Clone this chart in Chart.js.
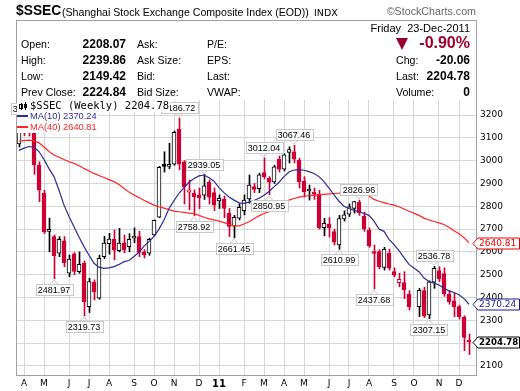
<!DOCTYPE html>
<html>
<head>
<meta charset="utf-8">
<script src="https://cdn.jsdelivr.net/npm/chart.js@4.4.0/dist/chart.umd.min.js"></script>
<style>
body { margin: 0; background: #fff; }
#wrap { position: relative; width: 520px; height: 391px; overflow: hidden; font-family: "Liberation Sans", Arial, sans-serif; color: #000; }
#c { position: absolute; left: 0; top: 0; }
.t { position: absolute; line-height: 1; white-space: nowrap; }
.l { font-size: 10.6px; }
.v { font-size: 12px; font-weight: bold; text-align: right; }
</style>
</head>
<body>
<div id="wrap">
<canvas id="c" width="520" height="391"></canvas>

<div class="t" style="left:16px;top:4px;font-size:13.8px;font-weight:bold">$SSEC</div>
<div class="t" style="left:62px;top:7px;font-size:10.6px">(Shanghai Stock Exchange Composite Index (EOD))</div>
<div class="t" style="left:314px;top:8px;font-size:9.5px;font-family:'DejaVu Sans',sans-serif">INDX</div>
<div class="t" style="right:44px;top:6px;font-size:10.7px;color:#666">&copy;StockCharts.com</div>

<div class="t" style="right:50px;top:22.7px;font-size:11px">Friday&nbsp;&nbsp;23-Dec-2011</div>

<div class="t l" style="left:21px;top:39px">Open:</div>
<div class="t l" style="left:21px;top:55px">High:</div>
<div class="t l" style="left:21px;top:71px">Low:</div>
<div class="t l" style="left:21px;top:87px">Prev Close:</div>
<div class="t v" style="left:56px;width:70px;top:37.8px">2208.07</div>
<div class="t v" style="left:56px;width:70px;top:53.8px">2239.86</div>
<div class="t v" style="left:56px;width:70px;top:69.8px">2149.42</div>
<div class="t v" style="left:56px;width:70px;top:85.8px">2224.84</div>

<div class="t l" style="left:137px;top:39px">Ask:</div>
<div class="t l" style="left:137px;top:55px">Ask Size:</div>
<div class="t l" style="left:137px;top:71px">Bid:</div>
<div class="t l" style="left:137px;top:87px">Bid Size:</div>

<div class="t l" style="left:207px;top:39px">P/E:</div>
<div class="t l" style="left:207px;top:55px">EPS:</div>
<div class="t l" style="left:207px;top:71px">Last:</div>
<div class="t l" style="left:207px;top:87px">VWAP:</div>

<div style="position:absolute;left:396px;top:38px;width:0;height:0;border-left:6.5px solid transparent;border-right:6.5px solid transparent;border-top:12px solid #99002b"></div>
<div class="t" style="left:380px;width:90px;top:34.5px;font-size:16px;font-weight:bold;text-align:right;color:#99002b">-0.90%</div>
<div class="t l" style="left:396px;top:55px">Chg:</div>
<div class="t l" style="left:396px;top:71px">Last:</div>
<div class="t l" style="left:396px;top:87px">Volume:</div>
<div class="t v" style="left:400px;width:70px;top:53.8px">-20.06</div>
<div class="t v" style="left:400px;width:70px;top:69.8px">2204.78</div>
<div class="t v" style="left:400px;width:70px;top:85.8px">0</div>
</div>

<script>
// weekly bars, Mar 29 2010 .. Dec 19 2011 (index = week number, 79 = Golden Week, no trading)
const opens = [3073, 3150, 3135, 3125, 2981, 2858, 2690, 2667, 2594, 2648,
  2507, 2591, 2513, 2550, 2360, 2467, 2397, 2579, 2636, 2655,
  2605, 2640, 2623, 2660, 2667, 2600, 2594, 2674, 2752, 2985,
  2975, 2985, 3139, 2995, 2862, 2857, 2850, 2849, 2905, 2860,
  2823, 2830, 2769, 2713, 2748, 2781, 2832, 2886, 2877, 2948,
  2922, 2907, 3006, 2963, 3036, 3039, 3003, 2910, 2867, 2860,
  2852, 2706, 2722, 2689, 2630, 2744, 2765, 2790, 2817, 2757,
  2696, 2601, 2601, 2532, 2594, 2513, 2465, 2465, 2415, null,
  2360, 2430, 2323, 2467, 2518, 2505, 2415, 2385, 2360, 2313, 2208.07];
const highs = [3150, 3165, 3181.66, 3130, 2995, 2870, 2748, 2674, 2667, 2667,
  2586, 2597, 2600, 2560, 2484, 2477, 2586, 2668, 2681, 2696,
  2703, 2674, 2680, 2705, 2690, 2610, 2660, 2740, 2975, 3039,
  3076, 3130, 3186.72, 3000, 2915, 2872, 2880, 2939.05, 2915, 2880,
  2850, 2845, 2790, 2760, 2812, 2850, 2937, 2900, 2945, 3012.04,
  2930, 2980, 3020, 3030, 3061, 3067.46, 3010, 2930, 2893, 2880,
  2870, 2747, 2750, 2700, 2760, 2780, 2810, 2822, 2826.96, 2775,
  2705, 2630, 2610, 2620, 2612, 2530, 2506, 2513, 2430, null,
  2440, 2445, 2473, 2536.78, 2535, 2530, 2430, 2418, 2367, 2320, 2239.86];
const lows = [3060, 3110, 3108, 2940, 2820, 2680, 2600, 2481.97, 2579, 2535,
  2491, 2500, 2506, 2319.73, 2334, 2389, 2392, 2570, 2590, 2565,
  2600, 2595, 2600, 2640, 2579, 2573, 2585, 2670, 2750, 2950,
  2965, 2980, 2960, 2810, 2784, 2758.92, 2790, 2830, 2810, 2780,
  2790, 2750, 2667, 2661.45, 2740, 2762, 2813, 2860, 2860, 2920,
  2850.95, 2900, 2950, 2955, 2990, 2990, 2880, 2840, 2827, 2830,
  2700, 2670, 2665, 2630, 2610.99, 2735, 2755, 2770, 2760, 2690,
  2620, 2437.68, 2525, 2520, 2520, 2490, 2447, 2395, 2345, null,
  2316, 2312, 2307.15, 2440, 2470, 2405, 2370, 2316, 2305, 2167, 2149.42];
const closes = [3148, 3130, 3125, 2981, 2871, 2688, 2697, 2583, 2655, 2553,
  2568, 2514, 2545, 2382, 2470, 2424, 2572, 2638, 2656, 2608,
  2638, 2610, 2655, 2665, 2598, 2587, 2655, 2738, 2971, 2975,
  2979, 3124, 2985, 2886, 2872, 2842, 2837, 2890, 2840, 2805,
  2835, 2791, 2712, 2752, 2795, 2827, 2893, 2874, 2938, 2930,
  2906, 2973, 2963, 3025, 3049, 3007, 2907, 2864, 2869, 2853,
  2706, 2725, 2705, 2642, 2746, 2762, 2797, 2820, 2771, 2701,
  2626, 2593, 2534, 2612, 2528, 2498, 2480, 2433, 2359, null,
  2431, 2318, 2469, 2528, 2481, 2416, 2380, 2360, 2316, 2224.84, 2204.78];
const ma10 = [3045, 3055, 3062, 3058, 3040, 3005, 2965, 2930, 2870, 2805,
  2755, 2710, 2665, 2623, 2585, 2550, 2533, 2528, 2530, 2535,
  2545, 2557, 2562, 2580, 2598, 2625, 2645, 2668, 2700, 2740,
  2790, 2825, 2857, 2882, 2905, 2922, 2933, 2937, 2925, 2910,
  2882, 2860, 2840, 2827, 2815, 2813, 2818, 2825, 2835, 2848,
  2865, 2885, 2905, 2930, 2950, 2959, 2961, 2958, 2952, 2944,
  2930, 2908, 2880, 2850, 2822, 2800, 2790, 2782, 2776, 2768,
  2760, 2735, 2700, 2690, 2655, 2632, 2605, 2575, 2545, null,
  2513, 2485, 2470, 2463, 2455, 2440, 2429, 2422, 2412, 2395, 2370.24];
const ma40 = [3085, 3088, 3090, 3087, 3078, 3060, 3040, 3025, 3015, 3005,
  2995, 2988, 2978, 2966, 2955, 2944, 2935, 2926, 2917, 2908,
  2895, 2878, 2862, 2849, 2838, 2826, 2815, 2805, 2798, 2792,
  2785, 2779, 2776, 2773, 2770, 2768, 2760, 2752, 2745, 2740,
  2735, 2728, 2720, 2714, 2714, 2722, 2732, 2745, 2758, 2768,
  2776, 2790, 2803, 2816, 2827, 2834, 2840, 2844, 2846, 2848,
  2850, 2852, 2854, 2856, 2858, 2861, 2864, 2864, 2862, 2857,
  2845, 2830, 2822, 2816, 2810, 2805, 2798, 2788, 2778, null,
  2760, 2748, 2740, 2733, 2727, 2720, 2708, 2693, 2680, 2662, 2640.81];

// month gridlines: week index of first Monday of each month
const tickIdx = [1, 5, 10, 14, 18, 23, 27, 31, 36, 40, 45, 49, 53, 57, 62, 66, 70, 75, 79, 84, 88];
const tickLbl = ['A', 'M', 'J', 'J', 'A', 'S', 'O', 'N', 'D', '11', 'F', 'M', 'A', 'M', 'J', 'J', 'A', 'S', 'O', 'N', 'D'];
const yTicks = [2100, 2200, 2300, 2400, 2500, 2600, 2700, 2800, 2900, 3000, 3100, 3200];
// labelled swing highs / lows
const peakIdx = [2, 7, 13, 32, 35, 37, 43, 49, 50, 55, 64, 68, 71, 82, 83];
const peakKind = ['h', 'l', 'l', 'h', 'l', 'h', 'l', 'h', 'l', 'h', 'l', 'h', 'l', 'l', 'h'];

const RED = '#cc0033';
const BLUE = '#2b2b96';
const MA40C = '#ff2424';
const SANS = '"DejaVu Sans", Verdana, sans-serif';

const body = [], wick = [], bodyFill = [], bodyLine = [];
let prev = null;
for (let i = 0; i < closes.length; i++) {
    if (closes[i] === null) continue;
    const up = prev === null ? true : closes[i] >= prev;
    const col = up ? '#000' : RED;
    body.push({ x: i, y: [opens[i], closes[i]] });
    wick.push({ x: i, y: [lows[i], highs[i]] });
    bodyLine.push(col);
    bodyFill.push(closes[i] > opens[i] ? '#fff' : col);
    prev = closes[i];
}
const pts = arr => arr.map((v, i) => ({ x: i, y: v })).filter(p => p.y !== null);
const last = closes.length - 1;

const overlay = {
    id: 'overlay',
    afterDraw(chart) {
        const { ctx, chartArea: a, scales: { x, y } } = chart;
        ctx.save();
        // frame around header and plot
        ctx.strokeStyle = '#a0a0a0';
        ctx.lineWidth = 1;
        ctx.strokeRect(a.left + 0.5, 20.5, a.right - a.left, a.bottom - 20);

        // high / low labels
        ctx.font = '9px "Liberation Sans", Arial, sans-serif';
        ctx.textAlign = 'center';
        ctx.textBaseline = 'middle';
        peakIdx.forEach((i, k) => {
            const hi = peakKind[k] === 'h';
            const v = hi ? highs[i] : lows[i];
            const px = x.getPixelForValue(i);
            const py = y.getPixelForValue(v);
            const txt = v.toFixed(2);
            const w = Math.round(ctx.measureText(txt).width + 4), h = 11;
            const bx = Math.round(px - w / 2) + 0.5;
            const by = hi ? Math.round(py - 5 - h) + 0.5 : Math.round(py + 5) + 0.5;
            ctx.strokeStyle = '#c8c8c8';
            ctx.beginPath();
            if (hi) { ctx.moveTo(px - 4, by + h); ctx.lineTo(px, py - 1); ctx.lineTo(px + 4, by + h); }
            else { ctx.moveTo(px - 4, by); ctx.lineTo(px, py + 1); ctx.lineTo(px + 4, by); }
            ctx.stroke();
            ctx.fillStyle = '#fff';
            ctx.fillRect(bx, by, w, h);
            ctx.strokeRect(bx, by, w, h);
            ctx.fillStyle = '#000';
            ctx.fillText(txt, px, by + h / 2 + 0.5);
        });

        // legend
        const lx = a.left + 14;
        ctx.textAlign = 'left';
        ctx.textBaseline = 'alphabetic';
        ctx.font = '10.5px "DejaVu Sans Mono", monospace';
        const t1 = '$SSEC (Weekly) ' + closes[last].toFixed(2);
        ctx.fillStyle = '#fff';
        ctx.fillRect(a.left + 1, a.top + 1, lx - a.left + ctx.measureText(t1).width, 11);
        ctx.fillStyle = '#000';
        ctx.fillText(t1, lx, a.top + 9);
        // little candle icon
        ctx.fillRect(a.left + 5, a.top + 3, 1, 7);
        ctx.strokeStyle = '#000';
        ctx.strokeRect(a.left + 3.5, a.top + 4.5, 3, 4);
        ctx.fillRect(a.left + 9, a.top + 2, 1, 8);
        ctx.fillRect(a.left + 8, a.top + 4, 3, 4);

        ctx.font = '9.3px "Liberation Sans", Arial, sans-serif';
        [['MA(10) ' + ma10[last].toFixed(2), BLUE, 19], ['MA(40) ' + ma40[last].toFixed(2), MA40C, 30]].forEach(([t, c, base]) => {
            ctx.fillStyle = '#fff';
            ctx.fillRect(a.left + 1, a.top + base - 8, lx - a.left + ctx.measureText(t).width, 11);
            ctx.fillStyle = c;
            ctx.fillRect(a.left + 1, a.top + base - 4, 11, 2);
            ctx.fillText(t, lx, a.top + base);
        });

        // last value tags on the right axis
        const tag = (v, c, bold) => {
            const py = Math.round(y.getPixelForValue(v)) + 0.5;
            const r = a.right;
            ctx.beginPath();
            ctx.moveTo(r - 3, py);
            ctx.lineTo(r + 2, py - 5.5);
            ctx.lineTo(r + 43.5, py - 5.5);
            ctx.lineTo(r + 43.5, py + 5.5);
            ctx.lineTo(r + 2, py + 5.5);
            ctx.closePath();
            ctx.fillStyle = '#fff';
            ctx.fill();
            ctx.strokeStyle = c;
            ctx.stroke();
            ctx.font = (bold ? 'bold 8.6px ' : '9px ') + SANS;
            ctx.fillStyle = c;
            ctx.textBaseline = 'middle';
            ctx.fillText(v.toFixed(2), r + 3, py + 0.5);
        };
        tag(ma40[last], '#ee0000', false);
        tag(ma10[last], '#1a1a8c', false);
        tag(closes[last], '#000', true);
        ctx.restore();
    }
};

new Chart(document.getElementById('c'), {
    type: 'bar',
    data: {
        datasets: [
            { type: 'line', data: pts(ma10), borderColor: BLUE, borderWidth: 1.2, pointRadius: 0, spanGaps: true, order: 0 },
            { type: 'line', data: pts(ma40), borderColor: MA40C, borderWidth: 1.2, pointRadius: 0, spanGaps: true, order: 0 },
            { data: body, backgroundColor: bodyFill, borderColor: bodyLine, borderWidth: 1, borderSkipped: false,
              barThickness: 4, minBarLength: 2, grouped: false, order: 1 },
            { data: wick, xAxisID: 'xw', backgroundColor: bodyLine, borderWidth: 0,
              barThickness: 1, grouped: false, order: 2 }
        ]
    },
    options: {
        responsive: false,
        animation: false,
        devicePixelRatio: 1,
        events: [],
        layout: { padding: { left: 16, top: 100, right: 0, bottom: 0 } },
        plugins: { legend: { display: false }, tooltip: { enabled: false } },
        scales: {
            x: {
                type: 'linear', min: -0.6, max: 91.4, offset: false,
                afterBuildTicks: s => { s.ticks = tickIdx.map(v => ({ value: v })); },
                afterFit: s => { s.height = 16; },
                grid: { color: '#d6d6d6', drawTicks: false, offset: false },
                border: { display: false },
                ticks: {
                    autoSkip: false, maxRotation: 0, padding: 3, color: '#000',
                    callback: v => tickLbl[tickIdx.indexOf(v)],
                    font: c => (c.tick && c.tick.value === 40) ? { family: SANS, size: 10, weight: 'bold' } : { family: SANS, size: 9 }
                }
            },
            xw: { type: 'linear', display: false, min: -0.7, max: 91.3, offset: false },
            y: {
                position: 'right', min: 2060, max: 3266,
                afterBuildTicks: s => { s.ticks = yTicks.map(v => ({ value: v })); },
                afterFit: s => { s.width = 44; },
                grid: { color: '#d6d6d6', drawTicks: false },
                border: { display: false },
                ticks: { padding: 4, color: '#000', font: { family: SANS, size: 9 }, callback: v => String(v) }
            }
        }
    },
    plugins: [overlay]
});
</script>
</body>
</html>
